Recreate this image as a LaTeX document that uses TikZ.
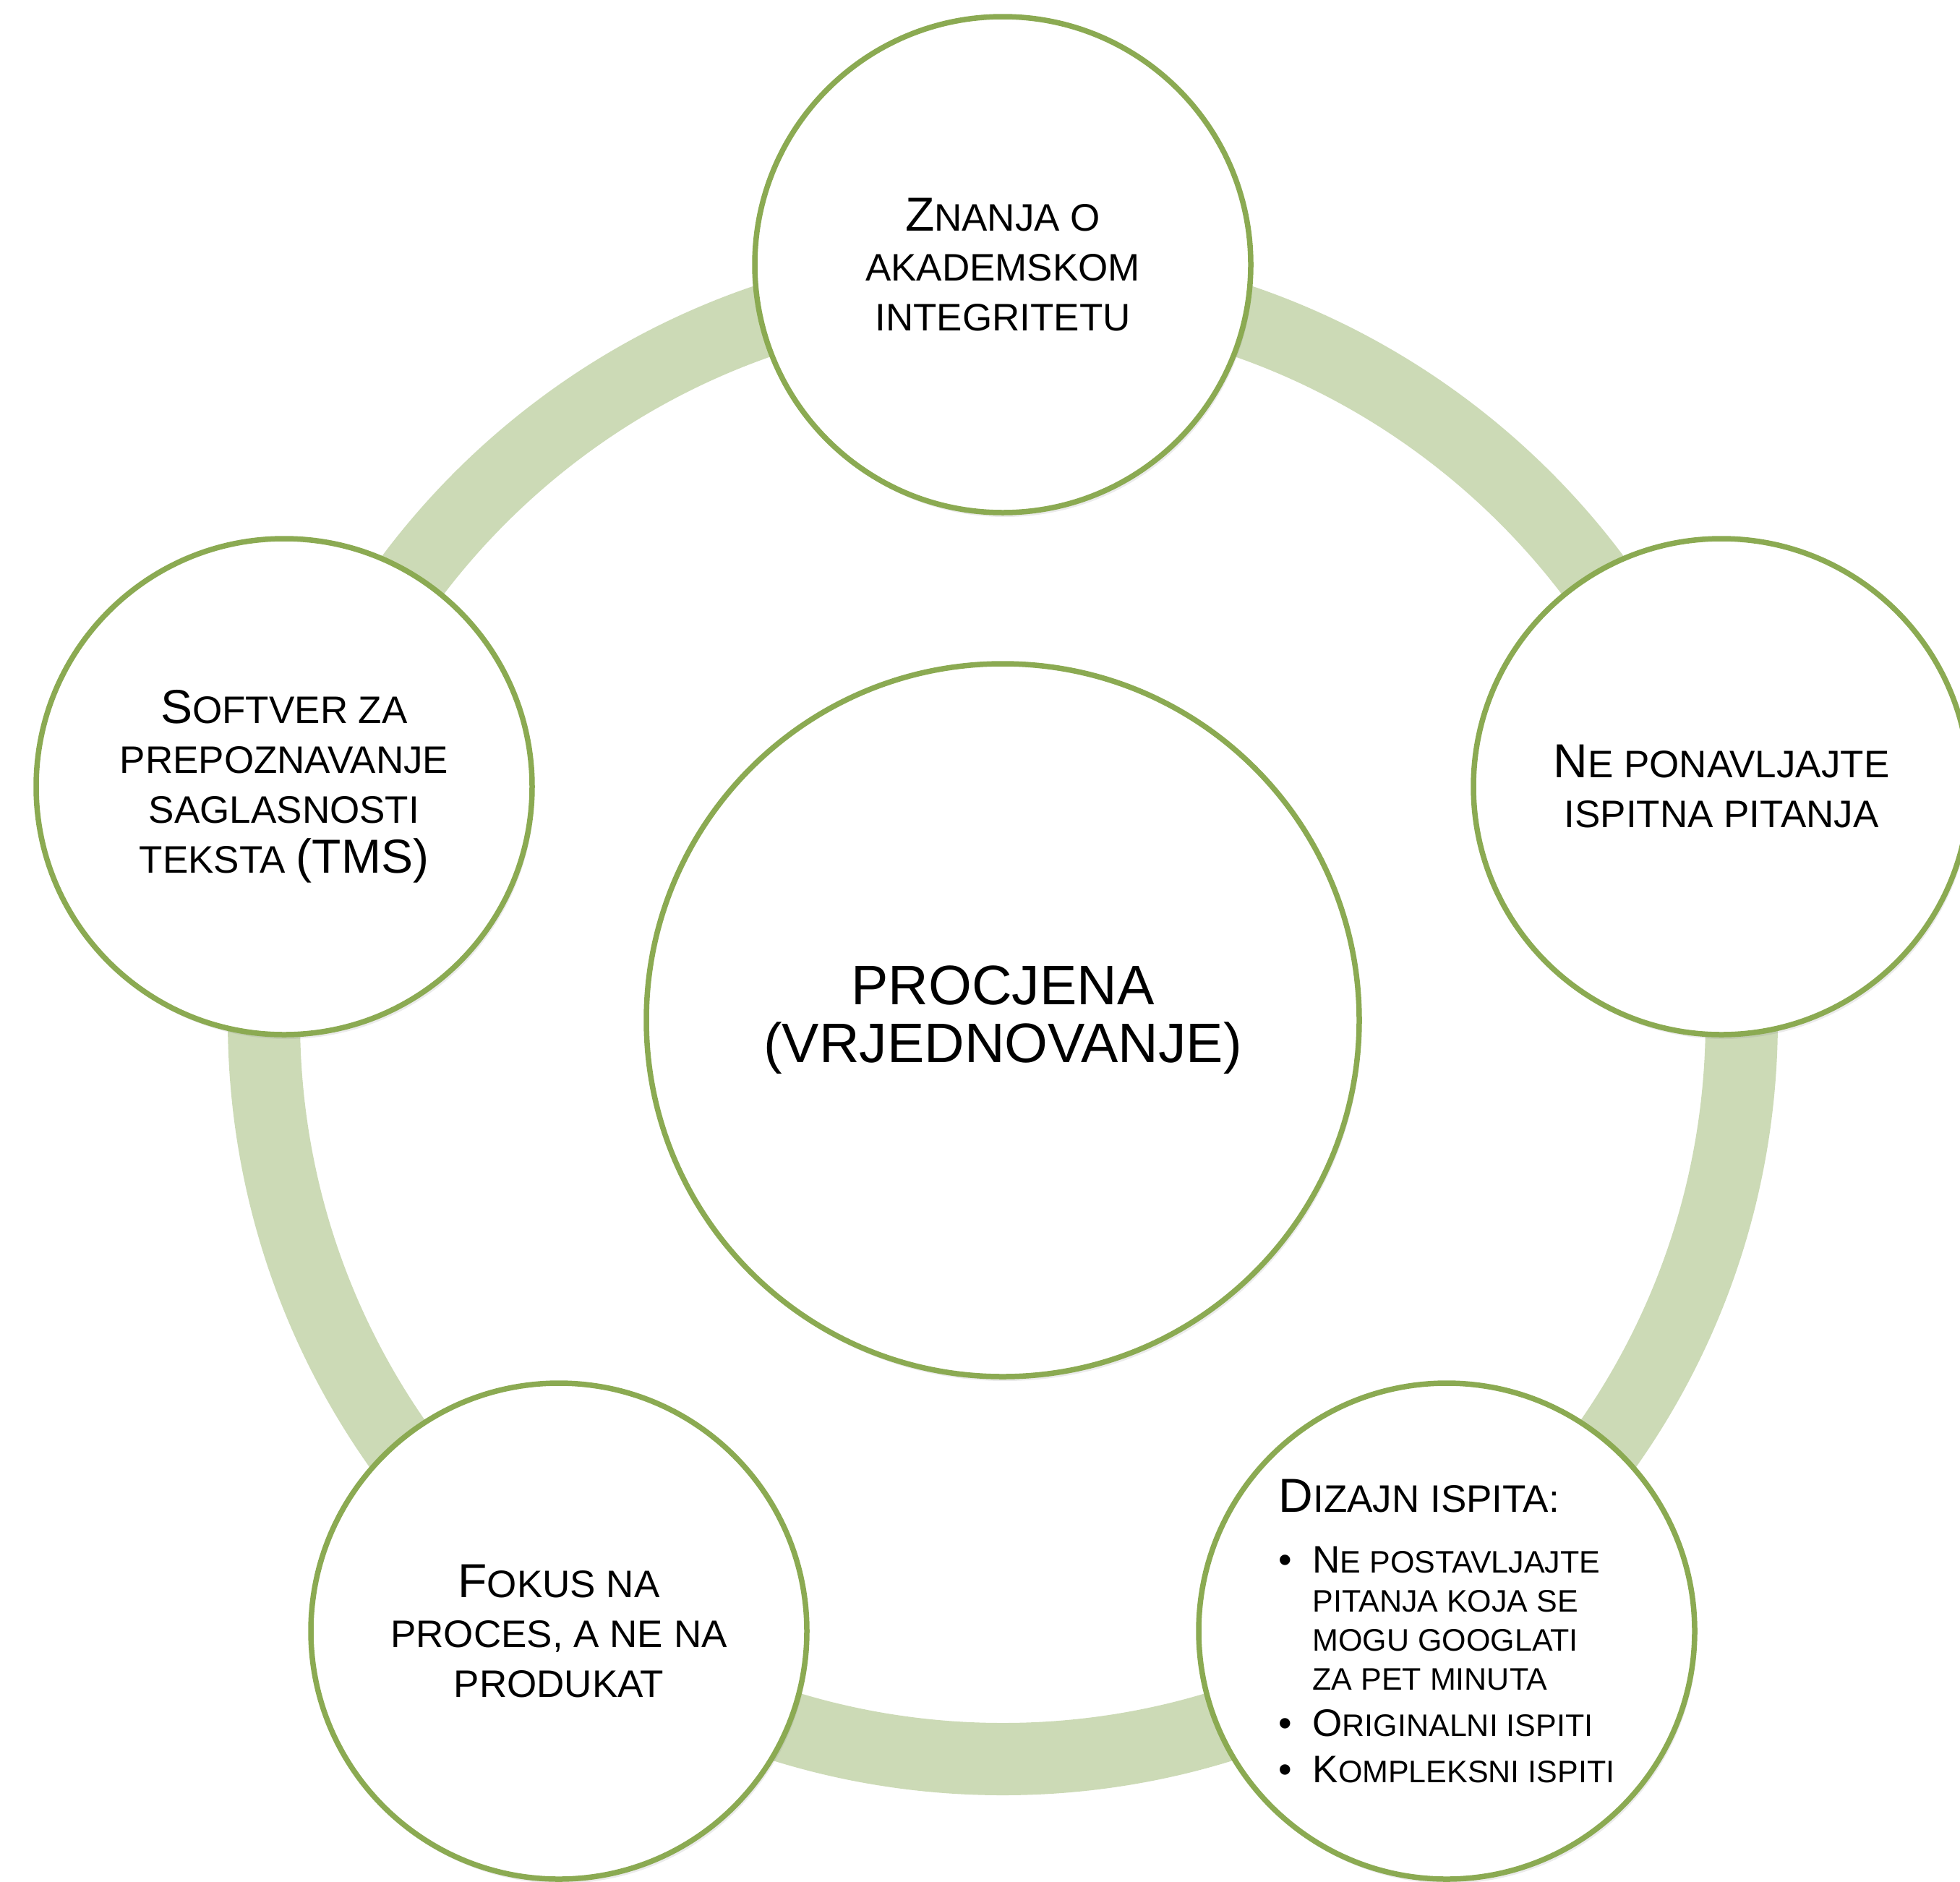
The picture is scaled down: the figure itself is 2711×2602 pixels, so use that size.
\documentclass[tikz,border=0pt]{standalone}
\usepackage{fontspec}
\setmainfont{Liberation Sans}
\usetikzlibrary{shadows}
\definecolor{ringgreen}{RGB}{204,218,182}
\definecolor{edgegreen}{RGB}{139,170,82}
\newcommand{\Bg}[1]{{\fontsize{66}{69}\selectfont #1}}
\newcommand{\Bgi}[1]{{\fontsize{53}{54}\selectfont #1}}
\newcommand{\Smc}{\fontsize{53}{69}\selectfont}
\newcommand{\Blt}{\makebox[47pt][l]{\fontsize{53}{54}\selectfont\textbullet}}
\tikzset{
  bub/.style={circle, draw=edgegreen, line width=7.5pt, fill=white,
    minimum size=686pt, inner sep=0pt, align=center,
    font=\fontsize{53}{69}\selectfont,
    drop shadow={opacity=0.16, shadow xshift=3pt, shadow yshift=-6pt}},
  hub/.style={bub, minimum size=986pt, font=\fontsize{77}{80}\selectfont},
  ringband/.style={draw=ringgreen, line width=100pt},
  itm/.style={bub, align=left, font=\fontsize{43}{54}\selectfont}
}
\begin{document}
\begin{tikzpicture}[x=1pt,y=-1pt]
\useasboundingbox (0,0) rectangle (2711,2602);
\coordinate (c) at (1387,1411);
\draw[ringband] (c) circle[radius=1022];
\node[hub] (hub) at (c) {PROCJENA\\(VRJEDNOVANJE)};
\node[bub] (top) at (1387,366) {\Bg{Z}NANJA O\\AKADEMSKOM\\INTEGRITETU};
\node[bub] (right) at (2381,1088) {\Bg{N}E PONAVLJAJTE\\ISPITNA PITANJA};
\node[itm] (br) at (2001,2256) {\Bg{D}{\Smc IZAJN ISPITA:}\\[30pt]
\Blt\Bgi{N}E POSTAVLJAJTE\\
\hspace*{47pt}PITANJA KOJA SE\\
\hspace*{47pt}MOGU GOOGLATI\\
\hspace*{47pt}ZA PET MINUTA\\[10pt]
\Blt\Bgi{O}RIGINALNI ISPITI\\[10pt]
\Blt\Bgi{K}OMPLEKSNI ISPITI};
\node[bub] (bl) at (773,2256) {\Bg{F}OKUS NA\\PROCES, A NE NA\\PRODUKAT};
\node[bub] (left) at (393,1088) {\Bg{S}OFTVER ZA\\PREPOZNAVANJE\\SAGLASNOSTI\\TEKSTA \Bg{(TMS)}};
\end{tikzpicture}
\end{document}
